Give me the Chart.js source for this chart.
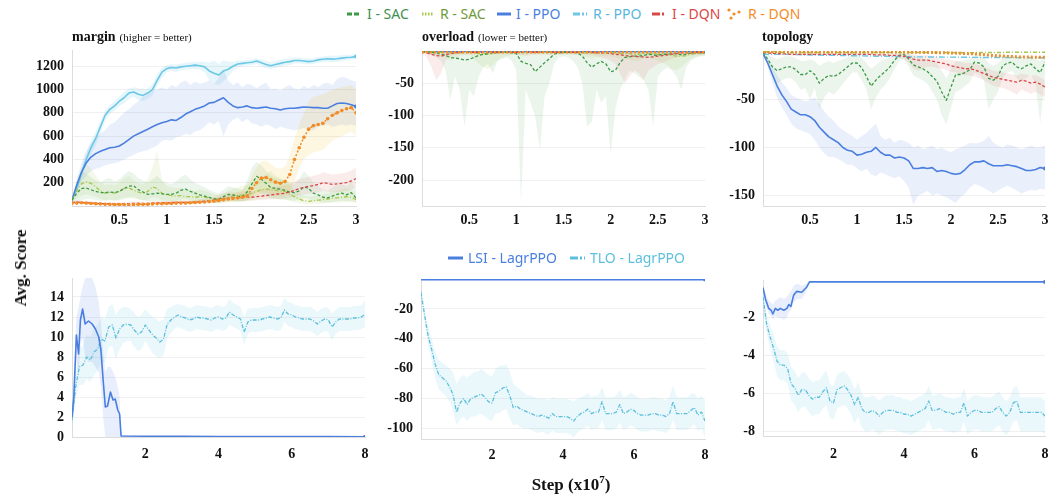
<!DOCTYPE html>
<html><head><meta charset="utf-8">
<script src="https://cdn.jsdelivr.net/npm/chart.js@4.4.1/dist/chart.umd.min.js"></script>
<style>
html,body{margin:0;padding:0;overflow:hidden;background:#fff}
body{width:1049px;height:498px;position:relative;font-family:"Liberation Serif","Times New Roman",serif}
.box{position:absolute}
.title{position:absolute;white-space:nowrap;color:#111;line-height:16px}
.title b{font-size:14px}
.title span{font-size:11px}
.leg{position:absolute;white-space:nowrap;font-family:"Noto Sans",sans-serif;font-size:14px;line-height:16px}
.leg svg{position:absolute}
.axt{position:absolute;white-space:nowrap;font-weight:bold;font-size:17px;color:#111}
</style></head><body>
<script>
// ---------------- data ----------------
const stepsTop = [0,0.05,0.1,0.15,0.2,0.25,0.3,0.35,0.4,0.45,0.5,0.55,0.6,0.65,0.7,0.75,0.8,0.85,0.9,0.95,1,1.05,1.1,1.15,1.2,1.25,1.3,1.35,1.4,1.45,1.5,1.55,1.6,1.65,1.7,1.75,1.8,1.85,1.9,1.95,2,2.05,2.1,2.15,2.2,2.25,2.3,2.35,2.4,2.45,2.5,2.55,2.6,2.65,2.7,2.75,2.8,2.85,2.9,2.95,3];
const stepsCoarse = [0,0.25,0.5,0.75,1,1.25,1.5,1.75,2,2.25,2.5,2.75,3];
const stepsBottom = [0,0.1,0.2,0.3,0.4,0.5,0.6,0.7,0.8,0.9,1,1.1,1.2,1.3,1.4,1.5,1.6,1.7,1.8,1.9,2,2.1,2.2,2.3,2.4,2.5,2.6,2.7,2.8,2.9,3,3.1,3.2,3.3,3.4,3.5,3.6,3.7,3.8,3.9,4,4.1,4.2,4.3,4.4,4.5,4.6,4.7,4.8,4.9,5,5.1,5.2,5.3,5.4,5.5,5.6,5.7,5.8,5.9,6,6.1,6.2,6.3,6.4,6.5,6.6,6.7,6.8,6.9,7,7.1,7.2,7.3,7.4,7.5,7.6,7.7,7.8,7.9,8];
const xTicksTop = [0.5,1,1.5,2,2.5,3];
const xTicksBottom = [2,4,6,8];
const yTicksMargin = [200,400,600,800,1000,1200];
const yTicksOverload = [-50,-100,-150,-200];
const yTicksTopology = [-50,-100,-150];
const yTicksMarginL = [0,2,4,6,8,10,12,14];
const yTicksOverloadL = [-20,-40,-60,-80,-100];
const yTicksTopologyL = [-2,-4,-6,-8];

// margin (top-left)
const marginRPPO = [50,150,280,400,500,580,680,780,830,860, 900,930,970,980,960,950,970,1000,1080,1150, 1180,1190,1185,1195,1200,1205,1210,1205,1195,1160, 1140,1125,1160,1175,1200,1220,1225,1230,1235,1245, 1230,1215,1205,1215,1225,1235,1240,1250,1250,1245, 1240,1245,1255,1260,1265,1262,1265,1270,1275,1278,1285];
const marginRPPOHi = [60,180,320,450,560,640,730,820,870,900, 940,980,1010,1020,1010,1000,1010,1050,1130,1190, 1210,1220,1215,1225,1230,1235,1240,1240,1240,1230, 1250,1220,1250,1240,1240,1250,1250,1255,1260,1270, 1260,1245,1235,1245,1255,1265,1270,1275,1275,1270, 1265,1270,1280,1285,1290,1290,1292,1295,1300,1300,1305];
const marginRPPOLo = [40,120,240,350,440,520,620,730,790,820, 860,880,920,940,910,900,920,950,1030,1100, 1150,1160,1150,1165,1170,1175,1180,1170,1150,1080, 1050,1040,1070,1110,1160,1190,1200,1205,1210,1220, 1200,1185,1175,1185,1195,1205,1210,1225,1225,1220, 1215,1220,1230,1235,1240,1235,1240,1245,1250,1255,1265];
const marginIPPO = [50,180,290,370,420,450,470,485,500,505, 515,540,570,600,620,640,660,680,700,715, 725,740,735,760,790,810,830,845,860,885, 890,910,930,890,860,845,850,860,845,840, 845,850,840,835,825,835,840,840,845,850, 848,845,845,840,840,860,880,885,880,870,855];
const marginIPPOHi = [60,230,370,470,540,590,620,650,700,720, 760,800,830,870,900,940,960,990,1000,1020, 1000,1040,1020,1060,1080,1040,1070,1050,1060,1080, 1050,1100,1170,1080,1040,1060,1020,1050,1040,1010, 1040,1060,1000,1010,990,1020,1040,1010,1000,1030, 1010,1040,1020,1050,1060,1040,1090,1110,1100,1080,1070];
const marginIPPOLo = [40,130,210,260,300,320,330,350,360,370, 380,400,420,440,460,470,480,500,520,560, 570,560,590,600,620,610,640,650,680,720, 700,730,600,700,740,760,720,750,710,700, 680,700,690,660,680,670,660,650,660,670, 660,650,680,690,700,680,690,700,690,700,690];
const marginRDQN = [25,25,28,25,22,20,18,15,15,12, 12,12,10,12,15,15,15,18,20,20, 22,22,25,25,25,28,30,32,35,38, 42,48,55,60,65,70,75,85,150,200, 240,245,225,205,195,210,270,400,500,590, 660,690,700,710,750,780,800,820,835,845,800];
const marginRDQNHi = [35,35,38,35,30,28,25,22,22,20, 20,20,18,20,22,22,22,25,28,28, 30,30,35,35,35,40,42,45,50,55, 60,70,80,90,100,120,140,180,260,330, 380,390,360,330,320,340,430,580,700,800, 900,940,950,960,980,1000,1010,1020,1030,1040,1000];
const marginRDQNLo = [15,15,18,15,14,12,10,8,8,6, 6,6,5,6,8,8,8,10,12,12, 14,14,15,15,15,17,18,20,22,24, 26,30,32,35,38,40,42,45,60,90, 110,120,100,90,85,90,120,220,320,400, 440,460,470,480,520,560,580,600,620,640,600];
const marginIDQN = [30,35,30,28,25,22,20,20,18,18, 18,20,20,22,22,20,22,25,25,28, 28,30,30,32,30,32,35,38,40,45, 50,58,65,68,72,70,75,78,75,80, 85,90,95,100,105,110,120,135,150,160, 170,175,185,200,195,185,190,195,200,215,235];
const marginIDQNHi = [45,50,45,42,38,35,32,32,30,30, 30,32,32,35,35,32,35,38,38,42, 42,45,45,48,45,48,52,58,62,70, 80,95,110,115,120,115,125,130,125,135, 145,150,160,165,175,180,190,210,230,240, 250,260,270,290,280,270,275,280,290,305,330];
const marginIDQNLo = [18,22,18,16,14,12,10,10,8,8, 8,10,10,12,12,10,12,14,14,16, 16,18,18,20,18,20,22,24,26,28, 30,35,40,42,45,42,45,48,45,50, 52,55,58,60,62,65,70,80,90,100, 105,110,115,130,125,115,120,125,130,140,160];
const marginISAC = [50,110,150,155,140,125,115,115,120,115, 125,150,170,175,140,120,100,105,110,105, 100,100,110,135,145,125,110,95,85,75, 60,60,80,100,95,85,80,120,190,255, 230,195,160,150,145,135,120,115,130,165, 150,110,95,75,70,85,100,110,95,115,70];
const marginISACHi = [60,200,300,280,250,220,200,230,240,210, 230,270,300,280,240,220,200,230,260,220, 200,190,210,250,270,230,200,180,160,140, 120,110,140,170,160,150,140,220,330,380, 350,300,260,240,230,220,200,190,230,300, 260,200,170,140,130,160,180,190,170,210,140];
const marginISACLo = [40,40,50,60,60,50,45,45,50,45, 50,60,70,80,60,50,40,40,45,40, 40,40,45,55,60,50,45,40,35,30, 25,25,35,45,40,35,35,50,80,130, 110,90,70,65,60,55,50,45,55,70, 60,45,40,30,30,35,40,45,40,45,30];
const marginRSAC = [50,130,190,210,195,165,130,110,115,110, 125,150,155,135,120,110,125,165,150,110, 95,90,85,90,80,80,75,80,75,70, 60,55,65,75,85,90,95,100,110,125, 140,145,140,135,130,125,100,80,60,45, 40,45,50,55,60,65,70,75,80,75,55];
const marginRSACHi = [60,220,330,360,320,260,210,180,190,180, 200,240,260,220,200,190,230,330,470,220, 170,160,150,160,140,140,130,140,130,120, 100,95,110,130,150,160,170,180,200,230, 250,270,300,260,240,220,180,140,110,90, 80,85,90,100,110,120,130,140,150,140,110];
const marginRSACLo = [40,60,90,100,90,80,60,50,55,50, 55,70,70,60,55,50,55,75,70,50, 40,40,38,40,35,35,32,35,32,30, 25,22,28,32,38,40,42,45,50,55, 60,65,60,58,55,55,45,35,25,18, 15,18,20,22,25,28,30,32,35,32,25];

// overload (top-middle)
const overloadISAC = [0,-1,-2,-3,-5,-7,-10,-11,-12,-14, -13,-10,-7,-5,-4,-3,-2,-2,-2,-3, -4,-16,-19,-21,-32,-25,-18,-12,-5,-3, -2,-2,-2,-3,-8,-18,-25,-20,-16,-20, -32,-30,-18,-10,-9,-8,-8,-7,-5,-6, -7,-5,-5,-4,-4,-6,-5,-3,-3,-3,-3];
const overloadISACLo = [0,-3,-6,-10,-15,-30,-76,-40,-60,-117, -60,-70,-40,-25,-20,-35,-15,-12,-10,-15, -30,-235,-60,-80,-101,-153,-70,-50,-20,-10, -8,-10,-15,-25,-50,-117,-110,-60,-80,-70, -161,-90,-60,-45,-30,-35,-40,-45,-60,-117, -40,-30,-25,-30,-40,-60,-25,-15,-10,-8,-8];
const overloadRSAC = [0,-1,-1,-2,-2,-2,-3,-3,-3,-2, -2,-3,-4,-5,-5,-4,-3,-2,-2,-2, -2,-2,-2,-2,-2,-2,-2,-2,-2,-2, -2,-2,-2,-2,-3,-3,-3,-3,-3,-3, -3,-3,-4,-4,-4,-5,-5,-4,-4,-4, -5,-5,-6,-7,-8,-8,-7,-5,-4,-3,-3];
const overloadRSACLo = [0,-3,-4,-6,-8,-10,-15,-12,-8,-6, -6,-12,-20,-25,-28,-22,-15,-10,-8,-6, -6,-8,-8,-6,-6,-5,-5,-6,-6,-5, -5,-5,-6,-6,-8,-10,-12,-10,-8,-8, -8,-10,-12,-12,-14,-15,-15,-12,-10,-12, -15,-18,-22,-28,-30,-25,-18,-12,-10,-8,-6];
const overloadIDQN = [-1,-3,-5,-7,-8,-6,-4,-3,-2,-2, -2,-2,-2,-2,-2,-2,-2,-2,-2,-2, -2,-2,-2,-2,-2,-2,-2,-2,-2,-2, -2,-2,-2,-2,-2,-2,-2,-3,-3,-3, -4,-5,-6,-7,-8,-8,-9,-9,-10,-9, -8,-7,-6,-5,-4,-3,-3,-3,-2,-2,-2];
const overloadIDQNLo = [-2,-10,-25,-45,-35,-15,-8,-6,-5,-5, -5,-5,-5,-5,-5,-5,-5,-5,-5,-5, -5,-6,-6,-5,-5,-5,-5,-5,-5,-5, -5,-5,-5,-5,-5,-6,-6,-8,-10,-12, -15,-20,-35,-50,-40,-30,-35,-45,-30,-25, -20,-18,-15,-12,-10,-8,-8,-7,-6,-6,-6];
const overloadIPPO = [-0.5,-0.5,-0.5,-0.5,-0.5,-0.5,-0.5,-0.5,-0.5,-0.5,-0.5,-0.5,-0.5];
const overloadRPPO = [-0.8,-0.8,-0.8,-0.8,-0.8,-0.8,-0.8,-0.8,-0.8,-0.8,-0.8,-0.8,-0.8];
const overloadRDQN = [-1.5,-1.5,-1.5,-1.5,-1.5,-1.5,-1.5,-1.5,-1.5,-1.5,-1.5,-1.5,-1.5];

// topology (top-right)
const topoIPPO = [-2,-12,-24,-36,-45,-52,-60,-63,-66,-66, -68,-72,-79,-84,-89,-92,-95,-100,-103,-104, -108,-107,-105,-104,-100,-105,-108,-108,-111,-110, -111,-114,-122,-122,-121,-122,-121,-125,-124,-125, -127,-128,-127,-123,-118,-115,-115,-114,-117,-119, -119,-119,-118,-119,-120,-122,-124,-124,-123,-121,-122];
const topoIPPOHi = [-1,-8,-16,-25,-32,-38,-45,-48,-50,-52, -50,-48,-55,-62,-68,-72,-78,-82,-85,-88, -92,-88,-85,-80,-75,-88,-92,-90,-95,-92, -93,-95,-100,-98,-102,-100,-98,-102,-100,-103, -105,-102,-100,-98,-95,-96,-95,-93,-88,-95, -98,-100,-97,-98,-100,-102,-100,-98,-100,-100,-98];
const topoIPPOLo = [-3,-16,-32,-48,-58,-66,-75,-80,-82,-84, -86,-92,-100,-106,-110,-110,-112,-115,-118,-118, -122,-125,-122,-128,-130,-126,-128,-130,-132,-130, -135,-142,-160,-150,-148,-145,-150,-148,-150,-152, -155,-158,-152,-148,-142,-138,-140,-142,-145,-148, -145,-142,-140,-142,-145,-148,-146,-144,-145,-143,-144];
const topoISAC = [-1,-8,-16,-20,-18,-16,-16,-19,-24,-24, -20,-24,-33,-28,-25,-26,-24,-20,-16,-12, -12,-17,-26,-36,-30,-25,-21,-16,-9,-4, -3,-8,-14,-16,-18,-21,-26,-31,-42,-51, -37,-24,-24,-22,-19,-11,-12,-16,-28,-30, -26,-15,-12,-11,-16,-18,-15,-13,-18,-22,-11];
const topoISACHi = [0,-3,-6,-8,-6,-5,-5,-7,-10,-10, -8,-10,-15,-12,-10,-12,-10,-8,-6,-4, -4,-6,-12,-18,-14,-10,-8,-6,-3,-1, -1,-2,-5,-6,-7,-8,-10,-12,-20,-28, -18,-10,-10,-9,-8,-4,-4,-6,-12,-15, -12,-6,-4,-4,-6,-8,-6,-5,-8,-10,-4];
const topoISACLo = [-2,-14,-26,-34,-30,-28,-28,-32,-40,-38, -50,-38,-60,-48,-42,-45,-40,-34,-28,-22, -22,-30,-40,-60,-48,-40,-35,-28,-18,-10, -8,-16,-25,-28,-30,-34,-42,-50,-66,-76, -58,-42,-40,-36,-32,-22,-24,-30,-60,-50, -42,-28,-22,-20,-28,-32,-28,-24,-35,-75,-25];
const topoIDQN = [-1,-1.5,-2,-2,-2.5,-2.5,-3,-3,-3,-3, -3,-3,-3,-3,-3,-3,-3,-3,-3,-3, -3,-3,-3,-3,-3.5,-3.5,-3.5,-4,-4,-4.5, -5,-6,-8,-9,-9,-9,-10,-11,-12,-13, -15,-16,-17,-18,-18,-19,-21,-23,-25,-27, -28,-29,-30,-31,-32,-30,-31,-33,-32,-34,-37];
const topoIDQNHi = [0,0,-1,-1,-1,-1,-1.5,-1.5,-1.5,-1.5, -1.5,-1.5,-1.5,-1.5,-1.5,-1.5,-1.5,-1.5,-1.5,-1.5, -1.5,-1.5,-1.5,-1.5,-2,-2,-2,-2,-2,-2, -2,-2.5,-3,-4,-4,-4,-5,-6,-7,-8, -9,-10,-11,-12,-12,-13,-14,-16,-18,-20, -21,-22,-23,-24,-25,-23,-24,-25,-25,-27,-30];
const topoIDQNLo = [-2,-3,-3,-3,-4,-4,-4.5,-4.5,-4.5,-4.5, -4.5,-4.5,-4.5,-4.5,-4.5,-4.5,-4.5,-4.5,-4.5,-4.5, -4.5,-4.5,-4.5,-4.5,-5,-5,-5,-6,-6,-7, -8,-12,-18,-20,-18,-16,-16,-17,-18,-19, -21,-22,-24,-25,-25,-26,-28,-30,-33,-36, -37,-38,-40,-42,-45,-40,-42,-44,-42,-45,-48];
const topoRPPO = [-3,-3,-3,-3,-3,-3,-3,-3.2,-3.3,-3.5, -3.6,-3.7,-3.8,-3.9,-4,-4,-4.1,-4.2,-4.3,-4.4, -4.5,-4.6,-4.7,-4.8,-4.9,-5,-5,-5.1,-5.2,-5.3, -5.4,-5.5,-5.5,-5.6,-5.6,-5.7,-5.7,-5.8,-5.8,-5.9, -5.9,-6,-6,-6,-6.1,-6.1,-6.2,-6.2,-6.2,-6.3, -6.3,-6.3,-6.3,-6.4,-6.4,-6.4,-6.4,-6.5,-6.5,-6.5,-6.5];
const topoRSAC = [0,-1,-1,-1,-1,-1,-1,-1,-1.2,-1.2,-1,-0.8,-0.8];
const topoRDQN = [0,-0.5,-0.5,-0.5,-0.5,-0.5,-0.6,-1,-1.5,-2.5,-4.5,-5.8,-6];

// bottom-left (margin, LagrPPO)
const lsiMarginSteps = [0,0.05,0.12,0.18,0.23,0.29,0.36,0.45,0.55,0.64,0.73,0.79,0.85,0.91,0.97,1.05,1.12,1.18,1.25,1.3,1.34,2,3,4,5,6,7,8];
const lsiMargin = [2,4,10.2,8.3,11.7,12.8,11.3,11.6,11.3,10.8,10,8.7,5.7,3,3.1,4.5,3.7,3.8,2.7,2.3,0.1,0.08,0.06,0.05,0.05,0.04,0.04,0.03];
const lsiMarginHi = [2.5,6,12,13,14,15,15.9,15.9,15.9,15,13.5,11.5,8.5,6.5,7,7,6.5,6,5,4,0.2,0.1,0.1,0.1,0.1,0.1,0.1,0.1];
const lsiMarginLo = [1.5,2,8,6,9,10,8,7.5,7.5,7,6.5,5,2,0,0,0,0,0,0,0,0,0,0,0,0,0,0,0];
const tloMargin = [1.7,5.0,7.0,7.2,8.0,7.7,8.5,8.8,9.8,9.6, 11.0,11.2,9.9,10.8,11.2,11.3,11.2,10.7,10.3,10.5, 11.2,10.7,10.2,9.9,9.5,9.8,11.3,11.7,12.0,12.2, 12.0,11.9,11.7,11.8,12.0,11.9,11.9,11.8,11.7,11.9, 12.0,11.8,11.9,12.5,12.2,12.0,11.8,10.5,11.5,11.7, 11.7,11.7,11.8,11.9,12.0,11.9,11.8,11.9,12.7,12.3, 12.2,12.0,11.9,11.8,11.8,11.8,11.6,11.3,11.6,11.8, 11.7,11.0,11.5,11.8,11.8,11.8,11.8,11.9,11.9,12.0, 12.3];
const tloMarginHi = [2.4,6.2,8.8,9.2,10.2,10.0,10.8,11.2,12.0,11.8, 13.0,13.3,12.2,12.8,13.0,13.0,12.8,12.4,12.0,12.2, 12.8,12.4,12.0,11.8,11.5,11.8,12.8,13.0,13.2,13.3, 13.2,13.1,12.9,13.0,13.2,13.1,13.1,13.0,12.9,13.1, 13.2,13.0,13.1,13.8,13.4,13.2,13.0,12.0,12.8,12.9, 12.9,12.9,13.0,13.1,13.2,13.1,13.0,13.1,13.9,13.5, 13.4,13.2,13.1,13.0,13.0,13.0,12.8,12.5,12.8,13.0, 12.9,12.3,12.7,13.0,13.0,13.0,13.0,13.1,13.1,13.2, 13.7];
const tloMarginLo = [1.0,3.8,5.2,5.2,5.8,5.5,6.2,6.6,7.6,7.4, 9.0,9.1,7.8,8.8,9.4,9.6,9.6,9.0,8.6,8.8, 9.6,9.0,8.4,8.0,7.9,8.2,9.8,10.4,10.8,11.0, 10.8,10.7,10.5,10.6,10.8,10.7,10.7,10.6,10.5,10.7, 10.8,10.6,10.7,11.2,11.0,10.8,10.6,9.2,10.3,10.5, 10.5,10.5,10.6,10.7,10.8,10.7,10.6,10.7,11.5,11.1, 11.0,10.8,10.7,10.6,10.6,10.6,10.4,10.1,10.4,10.6, 10.5,9.7,10.3,10.6,10.6,10.6,10.6,10.7,10.7,10.8, 11.0];

// bottom-middle (overload, LagrPPO)
const lsiOverloadSteps = [0,8];
const lsiOverload = [-0.3,-0.3];
const tloOverload = [-9,-24,-38,-47,-57,-64,-66,-68,-72,-77, -89,-83,-80,-84,-80,-79,-78,-77,-79,-82, -83,-76,-75,-73,-72,-78,-86,-85,-87,-88, -89,-90,-91,-92,-91,-92,-93,-90,-92,-92, -92,-92,-93,-95,-92,-90,-89,-87,-90,-89, -89,-82,-90,-90,-90,-89,-84,-90,-89,-87, -88,-90,-91,-91,-91,-90,-90,-91,-91,-92, -90,-82,-90,-90,-90,-90,-88,-86,-91,-89, -95];
const tloOverloadHi = [-7,-20,-32,-40,-48,-54,-56,-58,-60,-62, -70,-66,-64,-66,-64,-62,-62,-60,-62,-64, -65,-60,-58,-58,-57,-62,-70,-72,-74,-76, -78,-78,-79,-80,-80,-80,-81,-79,-80,-80, -80,-80,-81,-82,-80,-79,-78,-76,-79,-78, -78,-72,-79,-79,-79,-78,-74,-79,-78,-76, -77,-79,-80,-80,-80,-79,-79,-80,-80,-81, -79,-71,-79,-79,-79,-79,-77,-76,-80,-78, -82];
const tloOverloadLo = [-11,-28,-44,-55,-66,-74,-76,-78,-82,-88, -98,-94,-92,-95,-92,-92,-91,-90,-92,-94, -95,-90,-90,-88,-87,-93,-98,-97,-99,-100, -100,-101,-102,-103,-102,-103,-104,-101,-103,-103, -103,-103,-104,-106,-103,-101,-100,-98,-101,-100, -100,-94,-101,-101,-101,-100,-96,-101,-100,-98, -99,-101,-102,-102,-102,-101,-101,-102,-102,-103, -101,-94,-101,-101,-101,-101,-99,-97,-102,-100, -106];

// bottom-right (topology, LagrPPO)
const lsiTopoSteps = [0,0.07,0.16,0.23,0.28,0.35,0.42,0.49,0.59,0.68,0.73,0.79,0.87,0.96,1.1,1.23,1.32,2,3,4,5,6,7,8];
const lsiTopo = [-0.4,-1.0,-1.5,-1.6,-1.8,-1.5,-1.6,-1.5,-1.6,-1.5,-1.3,-1.4,-0.8,-0.6,-0.65,-0.4,-0.1,-0.1,-0.1,-0.1,-0.1,-0.1,-0.1,-0.1];
const lsiTopoHi = [-0.3,-0.7,-1.1,-1.2,-1.3,-1.1,-1.0,-0.9,-1.0,-0.9,-0.7,-0.6,-0.3,-0.2,-0.3,-0.2,-0.1,-0.1,-0.1,-0.1,-0.1,-0.1,-0.1,-0.1];
const lsiTopoLo = [-0.5,-1.3,-1.8,-1.9,-2.1,-1.9,-2.0,-2.0,-2.1,-2.0,-1.7,-1.6,-1.2,-1.0,-1.0,-0.6,-0.1,-0.1,-0.1,-0.1,-0.1,-0.1,-0.1,-0.1];
const tloTopo = [-0.9,-2.3,-3.0,-3.6,-4.3,-4.5,-4.5,-4.7,-5.5,-5.7, -6.1,-5.8,-5.8,-6.1,-6.3,-6.2,-6.2,-5.9,-5.7,-6.4, -6.5,-5.8,-5.7,-5.6,-5.8,-6.1,-6.6,-6.2,-6.8,-7.0, -7.0,-6.9,-7.0,-7.2,-7.0,-6.9,-6.9,-6.9,-7.0,-7.0, -7.1,-7.1,-7.2,-7.1,-7.0,-6.9,-6.8,-6.4,-6.9,-6.9, -6.8,-6.9,-7.0,-7.0,-7.1,-7.0,-7.0,-6.5,-7.2,-7.0, -6.9,-6.9,-7.0,-7.0,-7.0,-7.0,-6.8,-6.7,-7.0,-7.2, -7.0,-6.5,-6.4,-7.0,-7.0,-7.0,-7.0,-7.0,-7.0,-7.0, -7.2];
const tloTopoHi = [-0.6,-1.8,-2.4,-2.9,-3.5,-3.7,-3.7,-3.9,-4.6,-4.8, -5.2,-4.9,-4.9,-5.2,-5.4,-5.3,-5.3,-5.0,-4.8,-5.5, -5.6,-5.0,-4.9,-4.8,-5.0,-5.3,-5.8,-5.4,-6.0,-6.2, -6.2,-6.1,-6.2,-6.4,-6.2,-6.1,-6.1,-6.1,-6.2,-6.2, -6.3,-6.3,-6.4,-6.3,-6.2,-6.1,-6.0,-5.6,-6.1,-6.1, -6.0,-6.1,-6.2,-6.2,-6.3,-6.2,-6.2,-5.7,-6.4,-6.2, -6.1,-6.1,-6.2,-6.2,-6.2,-6.2,-6.0,-5.9,-6.2,-6.4, -6.2,-5.7,-5.6,-6.2,-6.2,-6.2,-6.2,-6.2,-6.2,-6.2, -6.4];
const tloTopoLo = [-1.2,-2.8,-3.6,-4.3,-5.1,-5.3,-5.3,-5.5,-6.4,-6.6, -7.0,-6.7,-6.7,-7.0,-7.2,-7.1,-7.1,-6.8,-6.6,-7.3, -7.4,-6.8,-6.7,-6.6,-6.8,-7.1,-7.6,-7.2,-7.8,-8.0, -8.0,-7.9,-8.0,-8.2,-8.0,-7.9,-7.9,-7.9,-8.0,-8.0, -8.1,-8.1,-8.2,-8.1,-8.0,-7.9,-7.8,-7.4,-7.9,-7.9, -7.8,-7.9,-8.0,-8.0,-8.1,-8.0,-8.0,-7.5,-8.2,-8.0, -7.9,-7.9,-8.0,-8.0,-8.0,-8.0,-7.8,-7.7,-8.0,-8.2, -8.0,-7.5,-7.4,-8.0,-8.0,-8.0,-8.0,-8.0,-8.0,-8.0, -8.2];

// ---------------- styles ----------------
const C = {
  isac:'#3c9a46', rsac:'#a6c84c', ippo:'#4a7fe0', rppo:'#6cc8e6', idqn:'#d94848', rdqn:'#f28c28', tlo:'#5cc0dd', lsi:'#4a7fe0'
};
const B = {
  isac:'rgba(60,154,70,0.10)', rsac:'rgba(166,200,76,0.13)', ippo:'rgba(74,127,224,0.12)', rppo:'rgba(108,200,230,0.16)',
  idqn:'rgba(217,72,72,0.10)', rdqn:'rgba(245,200,70,0.16)', tlo:'rgba(92,192,221,0.13)', lsi:'rgba(74,127,224,0.13)'
};

function P(xs, ys){ return xs.map((x,i)=>({x:x, y:ys[i]})); }
const endDot = c => (c.dataIndex === c.dataset.data.length-1 ? 2 : 0);
function lineDS(xs, ys, color, w, dash, extra){
  return Object.assign({data:P(xs,ys), borderColor:color, backgroundColor:color, borderWidth:w, borderDash:dash||[],
    pointRadius:0, pointBorderWidth:0, fill:false, tension:0, borderJoinStyle:'round'}, extra||{});
}
function bandDS(xs, lo, hi, color){
  return [
    {data:P(xs,lo), borderWidth:0, borderColor:'rgba(0,0,0,0)', pointRadius:0, fill:false},
    {data:P(xs,hi), borderWidth:0, borderColor:'rgba(0,0,0,0)', pointRadius:0, fill:'-1', backgroundColor:color}
  ];
}
function zeroBandDS(xs, lo, color){
  return {data:P(xs,lo), borderWidth:0, borderColor:'rgba(0,0,0,0)', pointRadius:0, fill:{value:0}, backgroundColor:color};
}

const tickFont = {family:'"Liberation Serif","Times New Roman",serif', weight:'bold', size:14};

function makeChart(rect, xMax, xTicks, xPad, yMin, yMax, yTicks, datasets){
  const padTop = 6, padRight = Math.min(12, 1049 - rect.R), yW = 60, xH = 30;
  const w = rect.R - rect.L + yW + padRight, h = rect.B - rect.T + padTop + xH;
  const div = document.createElement('div'); div.className = 'box';
  div.style.left = (rect.L - yW) + 'px'; div.style.top = (rect.T - padTop) + 'px';
  div.style.width = w + 'px'; div.style.height = h + 'px';
  const cv = document.createElement('canvas'); cv.width = w; cv.height = h;
  cv.style.width = w + 'px'; cv.style.height = h + 'px';
  div.appendChild(cv); document.body.appendChild(div);
  new Chart(cv, {
    type:'line',
    data:{datasets:datasets},
    options:{
      responsive:false, animation:false, devicePixelRatio:1,
      layout:{padding:{top:padTop, right:padRight, left:0, bottom:0}},
      plugins:{legend:{display:false}, tooltip:{enabled:false}, filler:{propagate:false, drawTime:'beforeDatasetsDraw'}},
      scales:{
        x:{type:'linear', min:0, max:xMax,
           afterBuildTicks:s=>{ s.ticks = xTicks.map(v=>({value:v})); },
           afterFit:s=>{ s.height = xH; s.paddingLeft = 0; s.paddingRight = 0; },
           grid:{display:false, drawTicks:false}, border:{display:true, color:'#dcdcdc', width:1},
           ticks:{font:tickFont, color:'#111', padding:xPad, maxRotation:0, autoSkip:false, callback:v=>String(v)}},
        y:{type:'linear', min:yMin, max:yMax,
           afterBuildTicks:s=>{ s.ticks = yTicks.map(v=>({value:v})); },
           afterFit:s=>{ s.width = yW; s.paddingTop = 0; s.paddingBottom = 0; },
           grid:{color:'#f0f0f0', drawTicks:false, lineWidth:1}, border:{display:true, color:'#dcdcdc', width:1},
           ticks:{font:tickFont, color:'#111', padding:8, autoSkip:false, callback:v=>String(v)}}
      }
    }
  });
}

// ---- margin (top-left)
makeChart({L:72,R:356,T:50,B:206}, 3, xTicksTop, 6, 0, 1340, yTicksMargin, [
  lineDS(stepsTop, marginRDQN, C.rdqn, 1.5, [2,2], {pointRadius:1.8, pointBackgroundColor:C.rdqn}),
  lineDS(stepsTop, marginIDQN, C.idqn, 1.3, [3,2]),
  lineDS(stepsTop, marginISAC, C.isac, 1.3, [3,2]),
  lineDS(stepsTop, marginRSAC, C.rsac, 1.3, [4,2,1,2]),
  lineDS(stepsTop, marginIPPO, C.ippo, 1.6, [], {pointRadius:endDot}),
  lineDS(stepsTop, marginRPPO, C.rppo, 1.6, [], {pointRadius:endDot}),
  ...bandDS(stepsTop, marginRSACLo, marginRSACHi, B.rsac),
  ...bandDS(stepsTop, marginISACLo, marginISACHi, B.isac),
  ...bandDS(stepsTop, marginIDQNLo, marginIDQNHi, B.idqn),
  ...bandDS(stepsTop, marginRDQNLo, marginRDQNHi, B.rdqn),
  ...bandDS(stepsTop, marginIPPOLo, marginIPPOHi, B.ippo),
  ...bandDS(stepsTop, marginRPPOLo, marginRPPOHi, B.rppo)
]);

// ---- overload (top-middle)
makeChart({L:422,R:705,T:51,B:206}, 3, xTicksTop, 6, -240, 0, yTicksOverload, [
  lineDS(stepsCoarse, overloadRDQN, C.rdqn, 3, [2,2]),
  lineDS(stepsTop, overloadIDQN, C.idqn, 1.3, [3,2]),
  lineDS(stepsTop, overloadISAC, C.isac, 1.3, [3,2]),
  lineDS(stepsTop, overloadRSAC, C.rsac, 1.3, [4,2,1,2]),
  lineDS(stepsCoarse, overloadIPPO, C.ippo, 1.8, []),
  lineDS(stepsCoarse, overloadRPPO, C.rppo, 1.5, [6,2,1,2]),
  zeroBandDS(stepsTop, overloadRSACLo, B.rsac),
  zeroBandDS(stepsTop, overloadIDQNLo, B.idqn),
  zeroBandDS(stepsTop, overloadISACLo, B.isac)
]);

// ---- topology (top-right)
makeChart({L:763,R:1045,T:51,B:206}, 3, xTicksTop, 6, -161, 0.5, yTicksTopology, [
  lineDS(stepsCoarse, topoRDQN, C.rdqn, 3, [2,2]),
  lineDS(stepsCoarse, topoRSAC, C.rsac, 1.5, [4,2,1,2]),
  lineDS(stepsTop, topoIDQN, C.idqn, 1.3, [3,2]),
  lineDS(stepsTop, topoISAC, C.isac, 1.3, [3,2]),
  lineDS(stepsTop, topoRPPO, C.rppo, 1.4, [6,2,1,2]),
  lineDS(stepsTop, topoIPPO, C.ippo, 1.6, [], {pointRadius:endDot}),
  ...bandDS(stepsTop, topoIDQNLo, topoIDQNHi, B.idqn),
  ...bandDS(stepsTop, topoISACLo, topoISACHi, B.isac),
  ...bandDS(stepsTop, topoIPPOLo, topoIPPOHi, B.ippo)
]);

// ---- bottom-left
makeChart({L:72,R:365,T:278,B:437}, 8, xTicksBottom, 9, 0, 15.9, yTicksMarginL, [
  lineDS(lsiMarginSteps, lsiMargin, C.lsi, 1.6, [], {pointRadius:endDot}),
  lineDS(stepsBottom, tloMargin, C.tlo, 1.3, [4,1.5,1,1.5]),
  ...bandDS(lsiMarginSteps, lsiMarginLo, lsiMarginHi, B.lsi),
  ...bandDS(stepsBottom, tloMarginLo, tloMarginHi, B.tlo)
]);

// ---- bottom-middle
makeChart({L:421,R:705,T:279,B:439}, 8, xTicksBottom, 8, -107, 0, yTicksOverloadL, [
  lineDS(lsiOverloadSteps, lsiOverload, C.lsi, 2, [], {pointRadius:endDot}),
  lineDS(stepsBottom, tloOverload, C.tlo, 1.3, [4,1.5,1,1.5]),
  ...bandDS(stepsBottom, tloOverloadLo, tloOverloadHi, B.tlo)
]);

// ---- bottom-right
makeChart({L:763,R:1045,T:280,B:436}, 8, xTicksBottom, 10, -8.25, 0, yTicksTopologyL, [
  lineDS(lsiTopoSteps, lsiTopo, C.lsi, 1.6, [], {pointRadius:endDot}),
  lineDS(stepsBottom, tloTopo, C.tlo, 1.3, [4,1.5,1,1.5]),
  ...bandDS(lsiTopoSteps, lsiTopoLo, lsiTopoHi, B.lsi),
  ...bandDS(stepsBottom, tloTopoLo, tloTopoHi, B.tlo)
]);
</script>

<!-- subplot titles -->
<div class="title" style="left:72px;top:28px"><b>margin</b> <span>(higher = better)</span></div>
<div class="title" style="left:422px;top:28px"><b>overload</b> <span>(lower = better)</span></div>
<div class="title" style="left:762px;top:28px"><b>topology</b></div>

<!-- axis titles -->
<div class="axt" style="left:21px;top:268px;transform:translate(-50%,-50%) rotate(-90deg)">Avg. Score</div>
<div class="axt" style="left:571px;top:484px;transform:translate(-50%,-50%)">Step (x10<sup style="font-size:11px">7</sup>)</div>

<!-- top legend -->
<div class="leg" style="left:347px;top:6px;color:#3f8f4f"><svg width="14" height="16" style="left:0;top:0"><line x1="0" y1="8" x2="14" y2="8" stroke="#3c9a46" stroke-width="3" stroke-dasharray="5,2"/></svg><span style="margin-left:20px">I - SAC</span></div>
<div class="leg" style="left:422px;top:6px;color:#6f9a3a"><svg width="12" height="16" style="left:0;top:0"><line x1="0" y1="8" x2="12" y2="8" stroke="#a6c84c" stroke-width="3" stroke-dasharray="1.5,1.5"/></svg><span style="margin-left:18px">R - SAC</span></div>
<div class="leg" style="left:497px;top:6px;color:#4a7fe0"><svg width="14" height="16" style="left:0;top:0"><line x1="0" y1="8" x2="14" y2="8" stroke="#4a7fe0" stroke-width="3"/></svg><span style="margin-left:19px">I - PPO</span></div>
<div class="leg" style="left:573px;top:6px;color:#5ab6dc"><svg width="14" height="16" style="left:0;top:0"><line x1="0" y1="8" x2="14" y2="8" stroke="#6cc8e6" stroke-width="3" stroke-dasharray="7,2,2,2"/></svg><span style="margin-left:20px">R - PPO</span></div>
<div class="leg" style="left:652px;top:6px;color:#d94848"><svg width="14" height="16" style="left:0;top:0"><line x1="0" y1="8" x2="14" y2="8" stroke="#d94848" stroke-width="3" stroke-dasharray="8,2,2,2"/></svg><span style="margin-left:20px">I - DQN</span></div>
<div class="leg" style="left:727px;top:6px;color:#f28c28"><svg width="14" height="16" style="left:0;top:0"><circle cx="2" cy="4" r="1.6" fill="#f28c28"/><circle cx="7" cy="8" r="1.6" fill="#f28c28"/><circle cx="12" cy="6" r="1.6" fill="#f28c28"/><circle cx="4" cy="12" r="1.6" fill="#f28c28"/></svg><span style="margin-left:21px">R - DQN</span></div>

<!-- bottom legend -->
<div class="leg" style="left:448px;top:250px;color:#4a7fe0;font-size:14px"><svg width="15" height="16" style="left:0;top:0"><line x1="0" y1="8" x2="15" y2="8" stroke="#4a7fe0" stroke-width="3"/></svg><span style="margin-left:20px">LSI - LagrPPO</span></div>
<div class="leg" style="left:570px;top:250px;color:#5cc0dd;font-size:14px"><svg width="15" height="16" style="left:0;top:0"><line x1="0" y1="8" x2="15" y2="8" stroke="#5cc0dd" stroke-width="3" stroke-dasharray="8,2,2,2"/></svg><span style="margin-left:20px">TLO - LagrPPO</span></div>
</body></html>
